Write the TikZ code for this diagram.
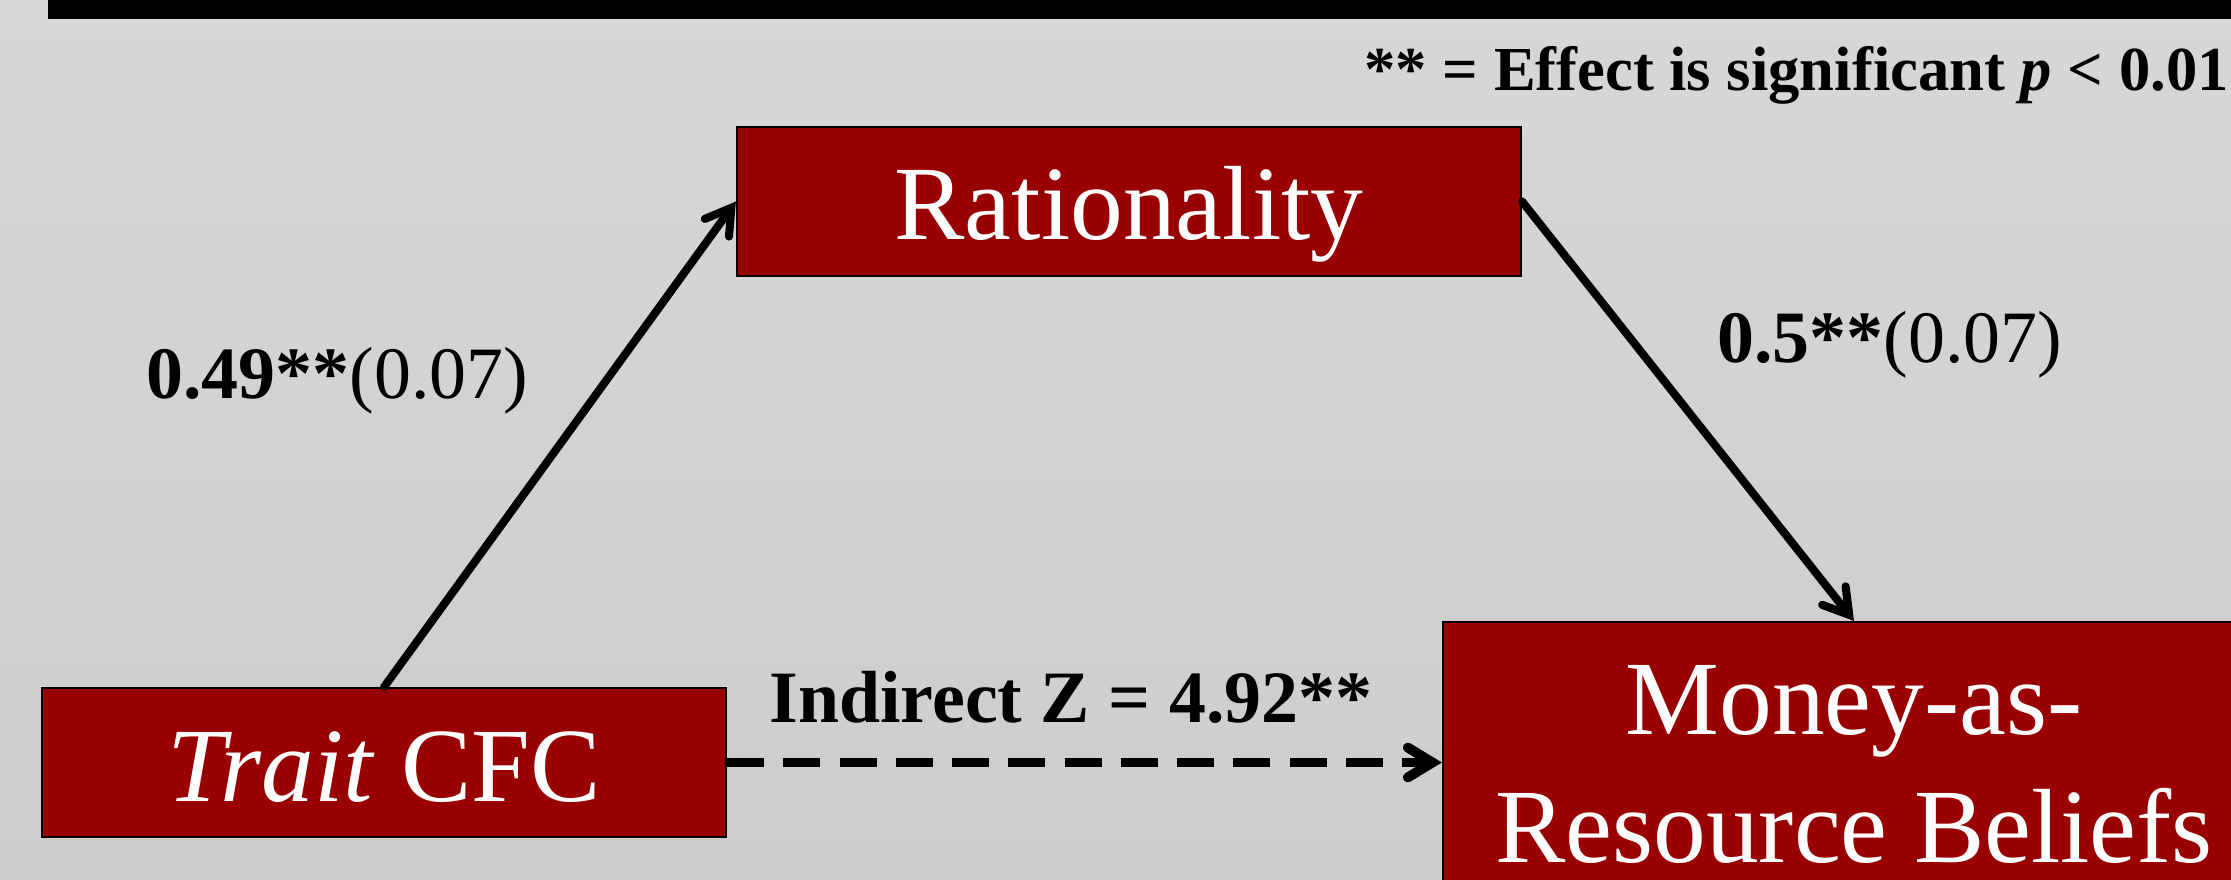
\documentclass[tikz,border=0pt]{standalone}
\usepackage{fontspec}
\setmainfont{Liberation Serif}
\usepackage{xcolor}
\usepackage{tikz}
\usetikzlibrary{arrows.meta,positioning,calc}
\definecolor{boxred}{RGB}{153,0,0}
\definecolor{bgtop}{RGB}{215,215,215}
\definecolor{bgbot}{RGB}{205,205,205}
\newcommand{\boxfont}{\fontsize{30}{36.4}\selectfont}
\newcommand{\labfont}{\fontsize{21}{25}\selectfont}

\begin{document}
\begin{tikzpicture}[x=0.01cm,y=-0.01cm,
  varbox/.style={draw=black,line width=0.5pt,fill=boxred,text=white,font=\boxfont,inner sep=0pt},
  path/.style={line width=2.3pt,line cap=round,-{Straight Barb[length=7pt,width=8.5pt,line cap=round]}},
  lab/.style={anchor=base west,font=\labfont}]
  \clip (0,0) rectangle (2231,880);
  \shade[top color=bgtop,bottom color=bgbot] (0,0) rectangle (2231,880);
  \fill[black] (48,0) rectangle (2231,19);
  \node[varbox,minimum width=6.84cm,minimum height=1.49cm,text height=21.9pt,text depth=0pt] (trait) at (384,762.5) {\textit{Trait} CFC};
  \node[varbox,minimum width=7.84cm,minimum height=1.49cm,text height=21.9pt,text depth=0pt] (rat) at (1129,201.5) {Rationality};
  \node[varbox,minimum width=8.22cm,inner ysep=0.44cm,align=center,anchor=north] (money) at (1854,621) {Money-as-\\Resource Beliefs};
  \draw[path] (trait.north) -- (rat.west);
  \draw[path] (rat.east) -- (money.north);
  \draw[path,line width=2.8pt,dash pattern=on 10.5pt off 5.5pt,line cap=butt] (trait.east) -- (trait.east -| money.west);
  \node[lab] (apath) at (134,399) {\textbf{0.49**}(0.07)};
  \node[lab] (bpath) at (1705,363) {\textbf{0.5**}(0.07)};
  \node[lab] (indirect) at (757,723) {\textbf{Indirect Z = 4.92**}};
  \node[anchor=base west,font=\fontsize{17.8}{21}\selectfont\bfseries] (note) at (1352,91) {** = Effect is significant \textit{p} < 0.01};
\end{tikzpicture}
\end{document}
